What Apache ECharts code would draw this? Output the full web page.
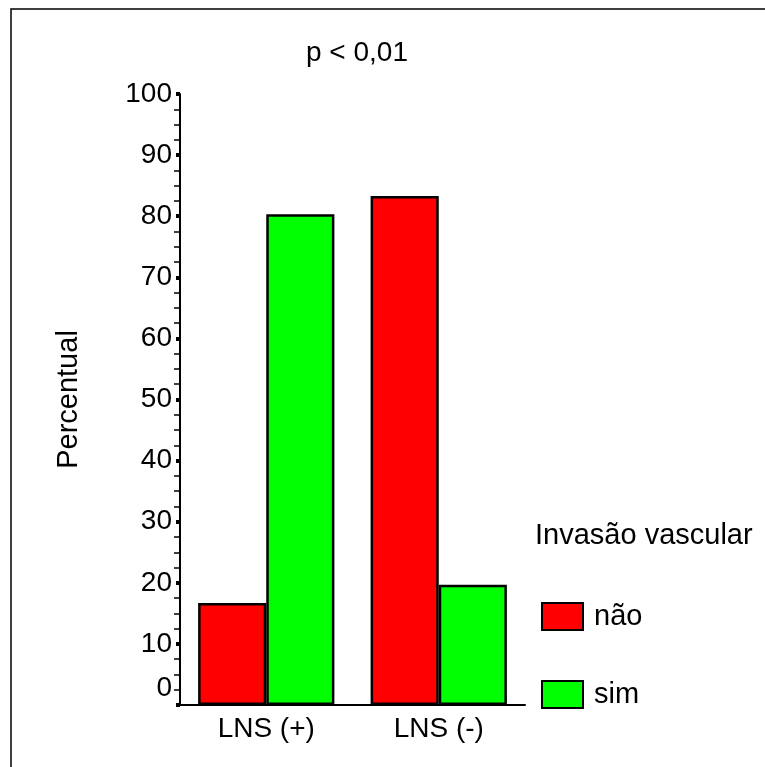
<!DOCTYPE html>
<html>
<head>
<meta charset="utf-8">
<script src="https://cdn.jsdelivr.net/npm/echarts@6/dist/echarts.min.js"></script>
<style>html,body{margin:0;padding:0;background:#fff}#c{width:765px;height:767px}</style>
</head>
<body>
<div id="c"></div>
<script>
var categories = ['LNS (+)', 'LNS (-)'];
var seriesNames = ['não', 'sim'];
var naoValues = [16.7, 83.3];
var simValues = [80.3, 19.7];
var yTicks = {min: 0, max: 100, interval: 10};

var FONT = 'Liberation Sans';
var chart = echarts.init(document.getElementById('c'), null, {renderer: 'canvas'});
chart.setOption({
  backgroundColor: '#fff',
  animation: false,
  textStyle: {fontFamily: FONT, color: '#000'},
  title: [
    {text: 'p < 0,01', left: 352, textAlign: 'center', top: 34,
     textStyle: {fontFamily: FONT, fontSize: 28, fontWeight: 'normal', color: '#000', letterSpacing: -1}},
    {text: 'Invasão vascular', left: 530, top: 516,
     textStyle: {fontFamily: FONT, fontSize: 29, fontWeight: 'normal', color: '#000', letterSpacing: -1}}
  ],
  legend: {
    orient: 'vertical', left: 536, top: 597,
    itemWidth: 41, itemHeight: 27, itemGap: 49,
    icon: 'rect',
    textStyle: {fontFamily: FONT, fontSize: 29, color: '#000', padding: [0, 0, 0, 6], letterSpacing: -1}
  },
  grid: {left: 180, right: 240, top: 94, bottom: 62, containLabel: false},
  xAxis: {
    type: 'category', data: categories,
    axisLine: {lineStyle: {color: '#000', width: 2}},
    axisTick: {alignWithLabel: true, length: 5, lineStyle: {color: '#000', width: 4}},
    axisLabel: {fontFamily: FONT, fontSize: 28, color: '#000', margin: 10, letterSpacing: -1.5}
  },
  yAxis: {
    type: 'value', min: yTicks.min, max: yTicks.max, interval: yTicks.interval,
    name: 'Percentual', nameLocation: 'middle', nameGap: 97, nameRotate: 90,
    nameTextStyle: {fontFamily: FONT, fontSize: 29, color: '#000', letterSpacing: -1},
    axisLine: {show: true, lineStyle: {color: '#000', width: 2}},
    axisTick: {show: true, length: 4, lineStyle: {color: '#000', width: 4}},
    minorTick: {show: true, splitNumber: 4, length: 6, lineStyle: {color: '#000', width: 1.5}},
    splitLine: {show: false},
    axisLabel: {
      fontFamily: FONT, fontSize: 28, color: '#000', margin: 8, letterSpacing: -1,
      formatter: function (v) { return v === 0 ? '{z|0}' : String(v); },
      rich: {z: {fontFamily: FONT, fontSize: 28, color: '#000', padding: [0, 0, 34, 0]}}
    }
  },
  series: [
    {name: seriesNames[0], type: 'bar', data: naoValues, barGap: '0%', barCategoryGap: '21%',
     itemStyle: {color: '#ff0000', borderColor: '#000', borderWidth: 2.5}},
    {name: seriesNames[1], type: 'bar', data: simValues, barGap: '0%', barCategoryGap: '21%',
     itemStyle: {color: '#00ff00', borderColor: '#000', borderWidth: 2.5}}
  ],
  graphic: [
    {type: 'rect', shape: {x: 11, y: 9, width: 800, height: 800}, silent: true,
     style: {fill: 'none', stroke: '#000', lineWidth: 1.5}}
  ]
});
</script>
</body>
</html>
